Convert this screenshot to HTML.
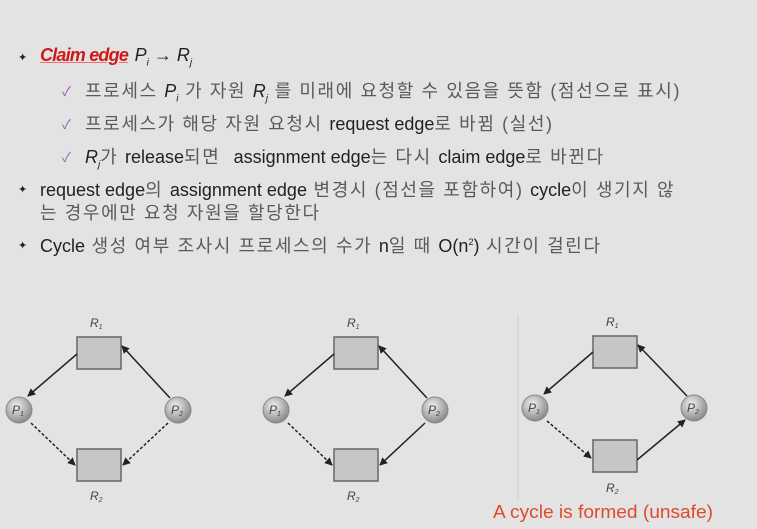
<!DOCTYPE html>
<html><head><meta charset="utf-8"><style>
html,body{margin:0;padding:0}
body{width:757px;height:529px;background:#e3e3e3;position:relative;overflow:hidden;font-family:"Liberation Sans","Noto Sans CJK KR",sans-serif;}
.t{position:absolute;white-space:nowrap;font-size:18px;color:#5a5a5a;letter-spacing:1.6px}
.e{color:#222;letter-spacing:0px}
.b{position:absolute;font-size:11px;color:#222}
.c{position:absolute;font-size:13px;color:#9a5ab0}
i{font-style:italic}
sub{font-size:10px}
</style></head><body>
<div class="b" style="left:18px;top:51px">&#x2726;</div>
<div class="t" style="left:40px;top:45px;"><i style="color:#d01818;font-weight:bold;text-decoration:underline;text-decoration-color:#f07070;letter-spacing:-0.8px">Claim edge</i> <span class="e"><i>P<sub>i</sub></i> → <i>R<sub>j</sub></i></span></div>
<div class="c" style="left:62px;top:81px">✓</div>
<div class="t" style="left:85px;top:77px">프로세스 <i class="e">P<sub>i</sub></i> 가 자원 <i class="e">R<sub>j</sub></i> 를 미래에 요청할 수 있음을 뜻함 (점선으로 표시)</div>
<div class="c" style="left:62px;top:114px">✓</div>
<div class="t" style="left:85px;top:110px">프로세스가 해당 자원 요청시 <span class="e">request edge</span>로 바뀜 (실선)</div>
<div class="c" style="left:62px;top:147px">✓</div>
<div class="t" style="left:85px;top:143px"><i class="e">R<sub>j</sub></i>가 <span class="e">release</span>되면 &nbsp;<span class="e">assignment edge</span>는 다시 <span class="e">claim edge</span>로 바뀐다</div>
<div class="b" style="left:18px;top:183px">&#x2726;</div>
<div class="t" style="left:40px;top:176px"><span class="e">request edge</span>의 <span class="e">assignment edge</span> 변경시 (점선을 포함하여) <span class="e">cycle</span>이 생기지 않</div>
<div class="t" style="left:40px;top:199px">는 경우에만 요청 자원을 할당한다</div>
<div class="b" style="left:18px;top:239px">&#x2726;</div>
<div class="t" style="left:40px;top:232px"><span class="e">Cycle</span> 생성 여부 조사시 프로세스의 수가 <span class="e">n</span>일 때 <span class="e">O(n<sup style="font-size:9px">2</sup>)</span> 시간이 걸린다</div>

<svg width="757" height="529" style="position:absolute;left:0;top:0">
<defs>
<marker id="a" markerWidth="8" markerHeight="8" refX="7" refY="4" orient="auto" markerUnits="userSpaceOnUse"><path d="M0,0 L8,4 L0,8 z" fill="#222"/></marker>
<radialGradient id="g" cx="40%" cy="35%" r="65%"><stop offset="0" stop-color="#f0f0f0"/><stop offset="1" stop-color="#8a8a8a"/></radialGradient>
</defs>
<line x1="518" y1="315" x2="518" y2="500" stroke="#cfcfcf"/>
<g font-family="Liberation Sans" font-style="italic" font-size="12" fill="#444" stroke="none">
<g>
<rect x="77" y="337" width="44" height="32" fill="#c6c6c6" stroke="#666" stroke-width="1.5"/>
<rect x="77" y="449" width="44" height="32" fill="#c6c6c6" stroke="#666" stroke-width="1.5"/>
<circle cx="19" cy="410" r="13" fill="url(#g)" stroke="#888"/>
<circle cx="178" cy="410" r="13" fill="url(#g)" stroke="#888"/>
<text x="90" y="327">R<tspan font-size="7" dy="2">1</tspan></text>
<text x="90" y="500">R<tspan font-size="7" dy="2">2</tspan></text>
<text x="12" y="414">P<tspan font-size="7" dy="2">1</tspan></text>
<text x="171" y="414">P<tspan font-size="7" dy="2">2</tspan></text>
<line x1="77" y1="354" x2="28" y2="396" stroke="#222" stroke-width="1.5" marker-end="url(#a)"/>
<line x1="170" y1="398" x2="122" y2="346" stroke="#222" stroke-width="1.5" marker-end="url(#a)"/>
<line x1="31" y1="423" x2="75" y2="465" stroke="#222" stroke-width="1.5" stroke-dasharray="3,2" marker-end="url(#a)"/>
<line x1="168" y1="423" x2="123" y2="465" stroke="#222" stroke-width="1.5" stroke-dasharray="3,2" marker-end="url(#a)"/>
</g>
<g transform="translate(257,0)">
<rect x="77" y="337" width="44" height="32" fill="#c6c6c6" stroke="#666" stroke-width="1.5"/>
<rect x="77" y="449" width="44" height="32" fill="#c6c6c6" stroke="#666" stroke-width="1.5"/>
<circle cx="19" cy="410" r="13" fill="url(#g)" stroke="#888"/>
<circle cx="178" cy="410" r="13" fill="url(#g)" stroke="#888"/>
<text x="90" y="327">R<tspan font-size="7" dy="2">1</tspan></text>
<text x="90" y="500">R<tspan font-size="7" dy="2">2</tspan></text>
<text x="12" y="414">P<tspan font-size="7" dy="2">1</tspan></text>
<text x="171" y="414">P<tspan font-size="7" dy="2">2</tspan></text>
<line x1="77" y1="354" x2="28" y2="396" stroke="#222" stroke-width="1.5" marker-end="url(#a)"/>
<line x1="170" y1="398" x2="122" y2="346" stroke="#222" stroke-width="1.5" marker-end="url(#a)"/>
<line x1="31" y1="423" x2="75" y2="465" stroke="#222" stroke-width="1.5" stroke-dasharray="3,2" marker-end="url(#a)"/>
<line x1="168" y1="423" x2="123" y2="465" stroke="#222" stroke-width="1.5" marker-end="url(#a)"/>
</g>
<g>
<rect x="593" y="336" width="44" height="32" fill="#c6c6c6" stroke="#666" stroke-width="1.5"/>
<rect x="593" y="440" width="44" height="32" fill="#c6c6c6" stroke="#666" stroke-width="1.5"/>
<circle cx="535" cy="408" r="13" fill="url(#g)" stroke="#888"/>
<circle cx="694" cy="408" r="13" fill="url(#g)" stroke="#888"/>
<text x="606" y="326">R<tspan font-size="7" dy="2">1</tspan></text>
<text x="606" y="492">R<tspan font-size="7" dy="2">2</tspan></text>
<text x="528" y="412">P<tspan font-size="7" dy="2">1</tspan></text>
<text x="687" y="412">P<tspan font-size="7" dy="2">2</tspan></text>
<line x1="593" y1="352" x2="544" y2="394" stroke="#222" stroke-width="1.5" marker-end="url(#a)"/>
<line x1="687" y1="396" x2="638" y2="345" stroke="#222" stroke-width="1.5" marker-end="url(#a)"/>
<line x1="547" y1="421" x2="591" y2="458" stroke="#222" stroke-width="1.5" stroke-dasharray="3,2" marker-end="url(#a)"/>
<line x1="637" y1="460" x2="685" y2="420" stroke="#222" stroke-width="1.5" marker-end="url(#a)"/>
</g>
</g>
<text x="493" y="518" textLength="220" lengthAdjust="spacingAndGlyphs" font-family="Liberation Sans" font-size="18" fill="#e04a2a">A cycle is formed (unsafe)</text>
</svg>
</body></html>
